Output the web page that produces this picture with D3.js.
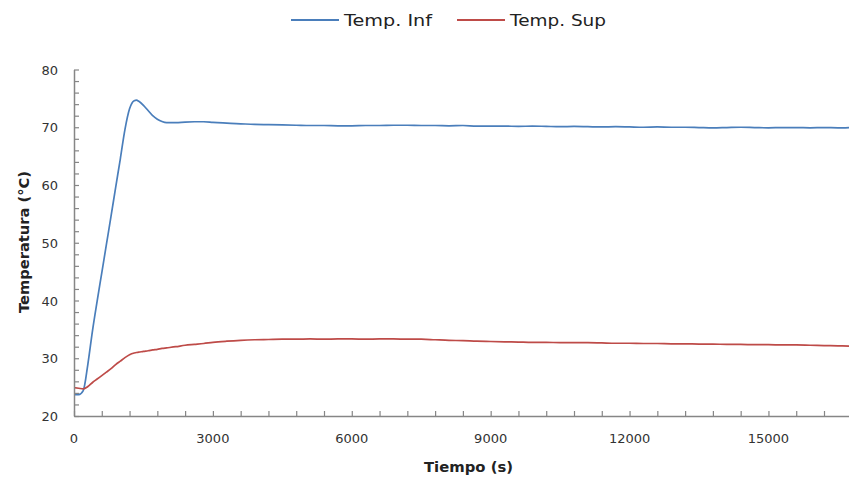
<!DOCTYPE html>
<html>
<head>
<meta charset="utf-8">
<script src="https://cdn.jsdelivr.net/npm/d3@7"></script>
<style>
  body { margin: 0; background: #fff; }
  svg { display: block; }
</style>
</head>
<body>
<div id="chart"></div>
<script>
// tiempo (s)
var tiempo = [0, 100, 200, 300, 400, 500, 600, 700, 800, 900, 1000, 1100, 1200, 1300, 1350, 1400, 1500, 1600, 1700, 1800, 1900, 2000,
	2200, 2400, 2600, 2800, 3000,
	3300, 3600, 3900, 4200, 4500, 4800, 5100, 5400, 5700, 6000,
	6300, 6600, 6900, 7200, 7500, 7800, 8100, 8400, 8700, 9000,
	9300, 9600, 9900, 10200, 10500, 10800, 11100, 11400, 11700, 12000,
	12300, 12600, 12900, 13200, 13500, 13800, 14100, 14400, 14700, 15000,
	15300, 15600, 15900, 16200, 16500,
	16740];

var tempInf = [23.7, 23.7, 24.4, 29.0, 34.8, 39.9, 44.8, 49.7, 54.6, 59.6, 64.5, 69.6, 73.2, 74.6, 74.7, 74.5, 73.8, 72.9, 72.0, 71.4, 71.0, 70.8,
	70.8, 70.9, 70.95, 70.95, 70.85,
	70.7, 70.6, 70.5, 70.45, 70.4, 70.35, 70.3, 70.3, 70.25, 70.25,
	70.3, 70.3, 70.35, 70.35, 70.3, 70.3, 70.25, 70.3, 70.2, 70.2,
	70.2, 70.15, 70.2, 70.15, 70.1, 70.15, 70.1, 70.05, 70.1, 70.05,
	70.0, 70.05, 70.0, 70.0, 69.95, 69.9, 69.95, 70.0, 69.95, 69.9,
	69.95, 69.95, 69.9, 69.95, 69.9,
	69.95];

var tempSup = [24.9, 24.8, 24.7, 25.1, 25.8, 26.4, 27.0, 27.6, 28.2, 28.9, 29.5, 30.1, 30.6, 30.9, 31.0, 31.05, 31.2, 31.3, 31.45, 31.55, 31.7, 31.8,
	32.0, 32.25, 32.4, 32.55, 32.75,
	32.95, 33.1, 33.2, 33.25, 33.3, 33.3, 33.35, 33.3, 33.35, 33.35,
	33.3, 33.35, 33.35, 33.3, 33.3, 33.2, 33.1, 33.05, 32.95, 32.9,
	32.85, 32.8, 32.75, 32.75, 32.7, 32.7, 32.7, 32.65, 32.6, 32.6,
	32.55, 32.55, 32.5, 32.5, 32.45, 32.45, 32.4, 32.4, 32.35, 32.35,
	32.3, 32.3, 32.25, 32.2, 32.15,
	32.1];

var seriesNames = ["Temp. Inf", "Temp. Sup"];
var seriesColors = ["#4A7EBB", "#BE4B48"];
var xTicks = [0, 3000, 6000, 9000, 12000, 15000];
var yTicks = [20, 30, 40, 50, 60, 70, 80];

(function() {
var W = 849, H = 480;
var mLeft = 74, mRight = 849, mTop = 69.5, mBottom = 416;
var font = "'DejaVu Sans', sans-serif";

var svg = d3.select("#chart").append("svg").attr("width", W).attr("height", H);

var x = d3.scaleLinear().domain([0, 16740]).range([mLeft, mRight]);
var y = d3.scaleLinear().domain([20, 80]).range([mBottom, mTop]);

svg.append("clipPath").attr("id", "plotclip")
	.append("rect").attr("x", mLeft).attr("y", mTop - 10).attr("width", mRight - mLeft).attr("height", mBottom - mTop + 20);

// lineas
var rows = tiempo.map(function(t, i) { return { t: t, inf: tempInf[i], sup: tempSup[i] }; });
var plot = svg.append("g").attr("clip-path", "url(#plotclip)");
["inf", "sup"].forEach(function(key, k) {
	var line = d3.line().x(function(d) { return x(d.t); }).y(function(d) { return y(d[key]); }).curve(d3.curveMonotoneX);
	plot.append("path").datum(rows).attr("d", line)
		.attr("fill", "none").attr("stroke", seriesColors[k]).attr("stroke-width", 1.7).attr("stroke-linejoin", "round");
});

// eje y
var yAxis = svg.append("g").attr("transform", "translate(" + mLeft + ",0)")
	.call(d3.axisRight(y).tickValues(d3.range(20, 81, 2)).tickSize(5).tickSizeOuter(0).tickFormat(""));
yAxis.select(".domain").attr("stroke", "#868686").attr("stroke-width", 1.5);
yAxis.selectAll(".tick line").attr("stroke", "#868686").attr("stroke-width", 1.2);

yTicks.forEach(function(v) {
	svg.append("text").attr("x", 58).attr("y", y(v) + 5)
		.attr("text-anchor", "end").attr("font-family", font).attr("font-size", 13)
		.attr("fill", "#333").text(v);
});

// eje x
var xAxis = svg.append("g").attr("transform", "translate(0," + mBottom + ")")
	.call(d3.axisTop(x).tickValues(d3.range(0, 16741, 600)).tickSize(5).tickSizeOuter(0).tickFormat(""));
xAxis.select(".domain").attr("stroke", "#868686").attr("stroke-width", 1.5);
xAxis.selectAll(".tick line").attr("stroke", "#868686").attr("stroke-width", 1.2);

xTicks.forEach(function(v) {
	svg.append("text").attr("x", x(v)).attr("y", 443)
		.attr("text-anchor", "middle").attr("font-family", font).attr("font-size", 13)
		.attr("fill", "#333").text(v);
});

// titulos de ejes
svg.append("text").attr("x", 424).attr("y", 472)
	.attr("font-family", font).attr("font-size", 14).attr("font-weight", "bold").attr("fill", "#222")
	.attr("textLength", 89).attr("lengthAdjust", "spacingAndGlyphs").text("Tiempo (s)");

svg.append("text").attr("transform", "translate(29,313) rotate(-90)")
	.attr("font-family", font).attr("font-size", 14).attr("font-weight", "bold").attr("fill", "#222")
	.attr("textLength", 142).attr("lengthAdjust", "spacingAndGlyphs").text("Temperatura (°C)");

// leyenda
var legX = [291, 457], legTextLen = [88, 96];
seriesNames.forEach(function(name, i) {
	svg.append("line").attr("x1", legX[i]).attr("x2", legX[i] + 48).attr("y1", 20).attr("y2", 20)
		.attr("stroke", seriesColors[i]).attr("stroke-width", 2);
	svg.append("text").attr("x", legX[i] + 53).attr("y", 25.7)
		.attr("font-family", font).attr("font-size", 15.5).attr("fill", "#222")
		.attr("textLength", legTextLen[i]).attr("lengthAdjust", "spacingAndGlyphs").text(name);
});
})();
</script>
</body>
</html>
